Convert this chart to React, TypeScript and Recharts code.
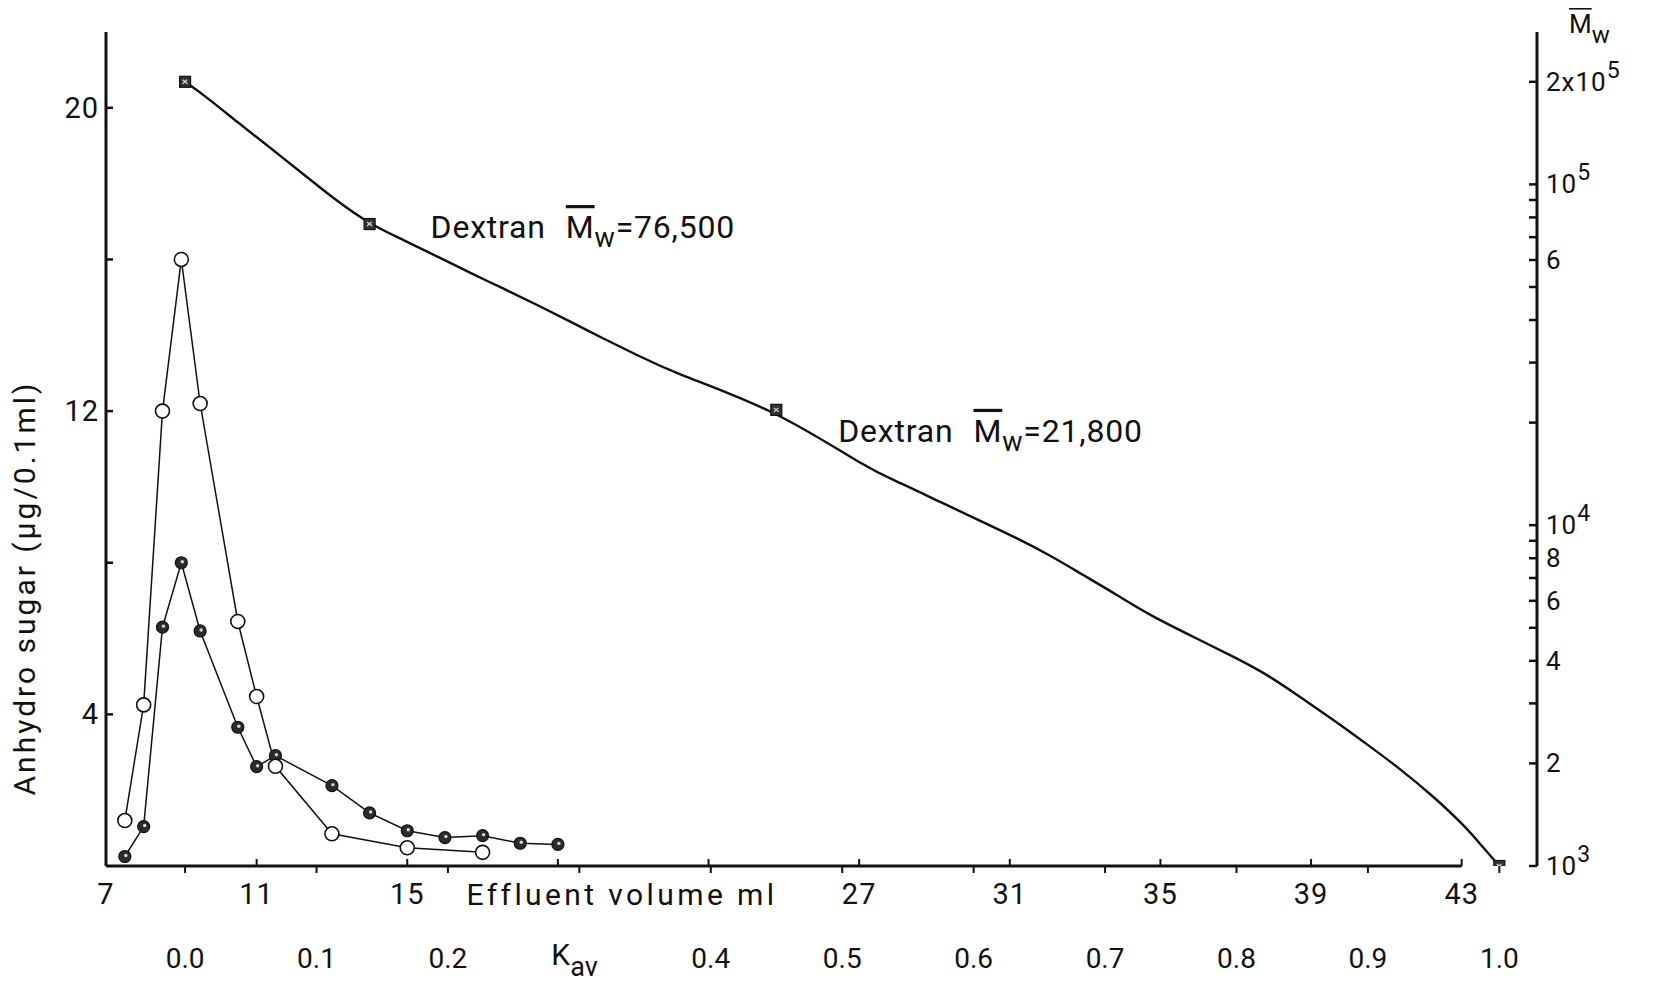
import React from 'react'
import { ComposedChart, Line, XAxis, YAxis, ReferenceLine, LabelList, Label } from 'recharts'

const FONT = 'Roboto, "DejaVu Sans", sans-serif'
const INK = '#111'

// anhydro sugar (µg / 0.1 ml) per fraction, two runs
const openVolumes = [7.5, 8, 8.5, 9, 9.5, 10.5, 11, 11.5, 13, 15, 17]
const openSugar = [1.2, 4.25, 12.0, 16.0, 12.2, 6.45, 4.47, 2.63, 0.85, 0.48, 0.36]
const filledVolumes = [7.5, 8, 8.5, 9, 9.5, 10.5, 11, 11.5, 13, 14, 15, 16, 17, 18, 19]
const filledSugar = [0.25, 1.04, 6.3, 8.0, 6.2, 3.66, 2.62, 2.91, 2.12, 1.4, 0.93, 0.75, 0.8, 0.6, 0.57]

// dextran calibration markers
const dextranVolumes = [9.1, 14.0, 24.8, 44.0]
const dextranMw = [200000, 76500, 21800, 1000]
const dextranNotes = ['', '76,500', '21,800', '']

// calibration curve traced through the markers
const curveVolumes = [9.1, 9.6, 10.5, 11.4, 12.25, 13.15, 14.0, 14.9, 15.8, 16.7, 17.55, 18.45, 19.35, 20.2, 21.1, 22.0, 24.8, 27.2, 28.1, 29.15, 30.3, 31.2, 32.05, 32.95, 33.85, 34.7, 36.05, 36.95, 37.8, 38.7, 39.6, 40.45, 41.35, 42.25, 43.1, 43.55, 44.0]
const curveMw = [200000, 183000, 152000, 127000, 107000, 89000, 76500, 68700, 61400, 54800, 49500, 44300, 39500, 35300, 31600, 28200, 21800, 14700, 13300, 11700, 10200, 9150, 8180, 7140, 6240, 5450, 4600, 4110, 3670, 3140, 2680, 2290, 1935, 1600, 1305, 1140, 1000]

// void / total volume used for Kav
const V0 = 9.1
const VT = 44.0

const mlDomain = [7, 45]
const mlTicks = [7, 11, 15, 19, 23, 27, 31, 35, 39, 43]
const mlLabelled = [7, 11, 15, 27, 31, 35, 39, 43]
const kavTicks = [0, 0.1, 0.2, 0.3, 0.4, 0.5, 0.6, 0.7, 0.8, 0.9, 1.0]
const kavLabels = ['0.0', '0.1', '0.2', 'Kav', '0.4', '0.5', '0.6', '0.7', '0.8', '0.9', '1.0']
const sugarTicks = [4, 8, 12, 16, 20]
const sugarLabelled = [4, 12, 20]
const mwTicks = [1000, 2000, 3000, 4000, 5000, 6000, 7000, 8000, 9000, 10000, 20000, 30000, 40000, 50000, 60000, 70000, 80000, 90000, 100000, 200000]
const mwLabels: Record<number, [string, string]> = {
  200000: ['2x10', '5'],
  100000: ['10', '5'],
  60000: ['6', ''],
  10000: ['10', '4'],
  8000: ['8', ''],
  6000: ['6', ''],
  4000: ['4', ''],
  2000: ['2', ''],
  1000: ['10', '3'],
}

const openRows = openVolumes.map((ml, i) => ({ ml, sugar: openSugar[i] }))
const filledRows = filledVolumes.map((ml, i) => ({ ml, sugar: filledSugar[i] }))
const dextranRows = dextranVolumes.map((ml, i) => ({ ml, mw: dextranMw[i], note: dextranNotes[i] }))
const curveRows = curveVolumes.map((ml, i) => ({ ml, mw: curveMw[i] }))
const kavDomain = mlDomain.map((v) => (v - V0) / (VT - V0))
// Kav endpoints, only so the second x axis has something bound to it
const kavRows = kavDomain.map((kav) => ({ kav, sugar: 0 }))

const textStyle = { fontFamily: FONT, fill: INK }
// the Kav axis is stacked first under the plot; the ml axis sits 1px below it
const KAV_AXIS_H = 1
const BOTTOM_H = 116

function MlTick({ x, y, payload }: any) {
  const v = payload.value
  const base = y - KAV_AXIS_H
  return (
    <g>
      <line x1={x} x2={x} y1={base} y2={base - 7} stroke={INK} strokeWidth={2} />
      {mlLabelled.includes(v) && (
        <text x={x} y={base + 28} textAnchor="middle" dominantBaseline="central" fontSize={29} letterSpacing={1} style={textStyle}>
          {v}
        </text>
      )}
    </g>
  )
}

function KavTick({ x, y, payload, index }: any) {
  const label = kavLabels[index] ?? String(payload.value)
  return (
    <g>
      <line x1={x} x2={x} y1={y} y2={y + 7} stroke={INK} strokeWidth={2} />
      {label === 'Kav' ? (
        <text x={x - 28} y={y + 88} dominantBaseline="central" fontSize={30} style={textStyle}>
          <tspan>K</tspan>
          <tspan dy={13} fontSize={27}>av</tspan>
        </text>
      ) : (
        <text x={x} y={y + 92} textAnchor="middle" dominantBaseline="central" fontSize={28} style={textStyle}>
          {label}
        </text>
      )}
    </g>
  )
}

function SugarTick({ x, y, payload }: any) {
  const v = payload.value
  return (
    <g>
      <line x1={x} x2={x + 7} y1={y} y2={y} stroke={INK} strokeWidth={2.5} />
      {sugarLabelled.includes(v) && (
        <text x={x - 7} y={y} textAnchor="end" dominantBaseline="central" fontSize={29} letterSpacing={1} style={textStyle}>
          {v}
        </text>
      )}
    </g>
  )
}

function MwTick({ x, y, payload }: any) {
  const lab = mwLabels[payload.value]
  return (
    <g>
      <line x1={x} x2={x - 8} y1={y} y2={y} stroke={INK} strokeWidth={2.5} />
      {lab && (
        <text x={x + 9} y={y} dominantBaseline="central" fontSize={26} letterSpacing={1} style={textStyle}>
          <tspan>{lab[0]}</tspan>
          {lab[1] && (
            <tspan dy={-12} fontSize={23}>
              {lab[1]}
            </tspan>
          )}
        </text>
      )}
    </g>
  )
}

function OpenDot({ cx, cy, index }: any) {
  return <circle key={`o${index}`} cx={cx} cy={cy} r={7} fill="#fff" stroke={INK} strokeWidth={1.6} />
}

function FilledDot({ cx, cy, index }: any) {
  return (
    <g key={`f${index}`}>
      <circle cx={cx} cy={cy} r={6} fill="#2b2b2b" stroke={INK} strokeWidth={1.2} />
      <circle cx={cx + 1} cy={cy - 1} r={1.7} fill="#d8d8d8" />
    </g>
  )
}

function SquareDot({ cx, cy, index }: any) {
  return (
    <g key={`s${index}`}>
      <rect x={cx - 5.5} y={cy - 5.5} width={11} height={11} fill="#333" stroke={INK} strokeWidth={1.2} />
      <path d={`M${cx - 2.5},${cy - 2} L${cx + 2.5},${cy + 2} M${cx - 2.5},${cy + 2} L${cx + 2},${cy - 2}`} stroke="#ddd" strokeWidth={1.2} />
    </g>
  )
}

const overline = { textDecoration: 'overline' }

// offsets of the two dextran annotations from their markers
const noteOffset: Record<number, [number, number]> = { 1: [61, 3], 2: [62, 21] }

function DextranNote({ x, y, value, index }: any) {
  if (!value) return null
  const [dx, dy] = noteOffset[index] ?? [60, 0]
  return (
    <text x={x + dx} y={y + dy} dominantBaseline="central" fontSize={32} letterSpacing={0.8} style={textStyle}>
      <tspan>Dextran</tspan>
      <tspan dx={20} style={overline}>M</tspan>
      <tspan dy={11} fontSize={27}>w</tspan>
      <tspan dy={-11}>={value}</tspan>
    </text>
  )
}

export default function App() {
  return (
    <div style={{ width: 1639, height: 974, background: '#fff' }}>
      <ComposedChart width={1639} height={974} margin={{ top: 24, right: 0, bottom: 0, left: 0 }}>
        <XAxis
          xAxisId="ml"
          type="number"
          dataKey="ml"
          domain={mlDomain}
          allowDataOverflow
          ticks={mlTicks}
          interval={0}
          height={BOTTOM_H - KAV_AXIS_H}
          axisLine={false}
          tickLine={false}
          tickSize={0}
          tickMargin={0}
          tick={MlTick}
        >
          <Label
            content={({ viewBox }: any) => (
              <text x={viewBox.x + 516} y={viewBox.y - KAV_AXIS_H + 28} textAnchor="middle" dominantBaseline="central" fontSize={30} letterSpacing={3.4} style={textStyle}>
                Effluent volume ml
              </text>
            )}
          />
        </XAxis>
        <XAxis
          xAxisId="kav"
          type="number"
          dataKey="kav"
          domain={kavDomain}
          allowDataOverflow
          ticks={kavTicks}
          interval={0}
          height={KAV_AXIS_H}
          axisLine={false}
          tickLine={false}
          tickSize={0}
          tickMargin={0}
          tick={KavTick}
        />
        <YAxis
          yAxisId="left"
          type="number"
          domain={[0, 22]}
          allowDataOverflow
          ticks={sugarTicks}
          interval={0}
          width={98}
          axisLine={{ stroke: INK, strokeWidth: 3 }}
          tickLine={false}
          tickSize={0}
          tickMargin={0}
          tick={SugarTick}
        >
          <Label
            content={({ viewBox }: any) => (
              <g transform={`translate(${viewBox.x + 16} ${viewBox.y + 556}) rotate(-90)`}>
                <text x={0} y={0} textAnchor="middle" dominantBaseline="central" fontSize={30} letterSpacing={3} style={textStyle}>
                  Anhydro sugar (µg/0.1ml)
                </text>
              </g>
            )}
          />
        </YAxis>
        <YAxis
          yAxisId="mw"
          orientation="right"
          type="number"
          scale="log"
          domain={[1000, 280000]}
          allowDataOverflow
          ticks={mwTicks}
          interval={0}
          width={110}
          axisLine={{ stroke: INK, strokeWidth: 3 }}
          tickLine={false}
          tickSize={0}
          tickMargin={0}
          tick={MwTick}
        >
          <Label
            content={({ viewBox }: any) => (
              <text x={viewBox.x + 32} y={viewBox.y - 8} dominantBaseline="central" fontSize={26} style={textStyle}>
                <tspan style={overline}>M</tspan>
                <tspan dy={11} fontSize={24}>w</tspan>
              </text>
            )}
          />
        </YAxis>

        <ReferenceLine
          xAxisId="ml"
          yAxisId="left"
          segment={[{ x: 7, y: 0 }, { x: 43, y: 0 }]}
          stroke={INK}
          strokeWidth={3}
          ifOverflow="visible"
        />

        <Line
          xAxisId="kav"
          yAxisId="left"
          data={kavRows}
          dataKey="sugar"
          stroke="none"
          dot={false}
          activeDot={false}
          isAnimationActive={false}
        />
        <Line
          xAxisId="ml"
          yAxisId="mw"
          data={curveRows}
          dataKey="mw"
          type="basis"
          stroke={INK}
          strokeWidth={2.4}
          dot={false}
          activeDot={false}
          isAnimationActive={false}
        />
        <Line
          xAxisId="ml"
          yAxisId="mw"
          data={dextranRows}
          dataKey="mw"
          stroke="none"
          dot={SquareDot}
          activeDot={false}
          isAnimationActive={false}
        >
          <LabelList dataKey="note" content={DextranNote} />
        </Line>
        <Line
          xAxisId="ml"
          yAxisId="left"
          data={filledRows}
          dataKey="sugar"
          type="linear"
          stroke={INK}
          strokeWidth={1.5}
          dot={FilledDot}
          activeDot={false}
          isAnimationActive={false}
        />
        <Line
          xAxisId="ml"
          yAxisId="left"
          data={openRows}
          dataKey="sugar"
          type="linear"
          stroke={INK}
          strokeWidth={1.5}
          dot={OpenDot}
          activeDot={false}
          isAnimationActive={false}
        />
      </ComposedChart>
    </div>
  )
}
